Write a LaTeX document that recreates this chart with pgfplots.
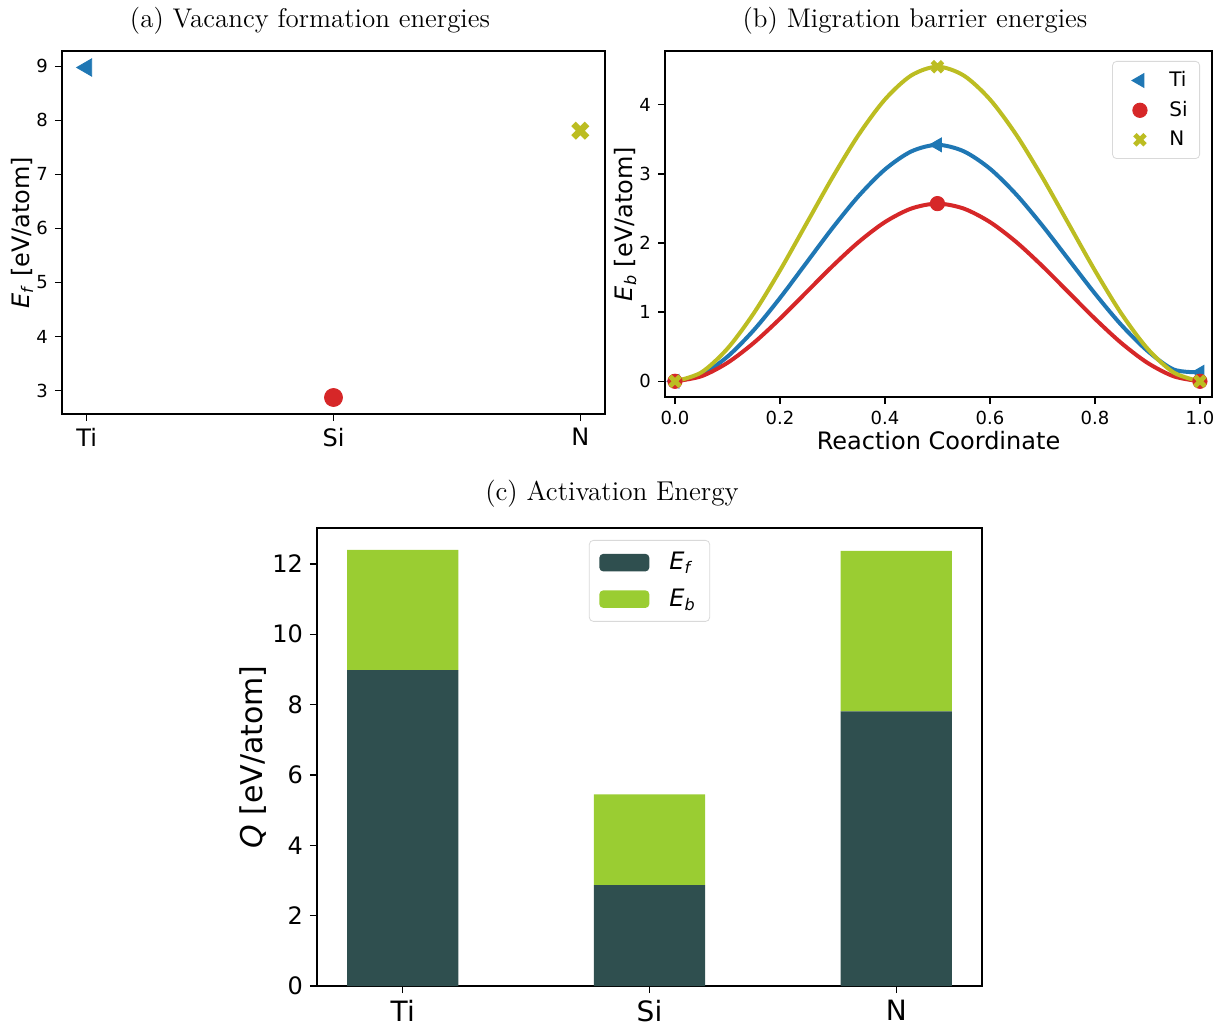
\documentclass[border=0pt]{standalone}
\usepackage{fontspec}
\setsansfont{DejaVu Sans}
\usepackage{pgfplots}
\usepackage{pgfplotstable}
\pgfplotsset{compat=1.18}
\definecolor{cTi}{HTML}{1F77B4}
\definecolor{cSi}{HTML}{D62728}
\definecolor{cN}{HTML}{BCBD22}
\definecolor{cEf}{HTML}{2F4F4F}
\definecolor{cEb}{HTML}{9ACD32}

\pgfdeclareplotmark{Xf}{%
 \pgftransformrotate{45}%
 \pgfpathmoveto{\pgfqpoint{-0.333\pgfplotmarksize}{-1\pgfplotmarksize}}%
 \pgfpathlineto{\pgfqpoint{0.333\pgfplotmarksize}{-1\pgfplotmarksize}}%
 \pgfpathlineto{\pgfqpoint{0.333\pgfplotmarksize}{-0.333\pgfplotmarksize}}%
 \pgfpathlineto{\pgfqpoint{1\pgfplotmarksize}{-0.333\pgfplotmarksize}}%
 \pgfpathlineto{\pgfqpoint{1\pgfplotmarksize}{0.333\pgfplotmarksize}}%
 \pgfpathlineto{\pgfqpoint{0.333\pgfplotmarksize}{0.333\pgfplotmarksize}}%
 \pgfpathlineto{\pgfqpoint{0.333\pgfplotmarksize}{1\pgfplotmarksize}}%
 \pgfpathlineto{\pgfqpoint{-0.333\pgfplotmarksize}{1\pgfplotmarksize}}%
 \pgfpathlineto{\pgfqpoint{-0.333\pgfplotmarksize}{0.333\pgfplotmarksize}}%
 \pgfpathlineto{\pgfqpoint{-1\pgfplotmarksize}{0.333\pgfplotmarksize}}%
 \pgfpathlineto{\pgfqpoint{-1\pgfplotmarksize}{-0.333\pgfplotmarksize}}%
 \pgfpathlineto{\pgfqpoint{-0.333\pgfplotmarksize}{-0.333\pgfplotmarksize}}%
 \pgfpathclose
 \pgfusepathqfill
}

% reaction-coordinate curves
\pgfplotstableread{
x    ti     si     n
0.00 0.000  0.000  0.000
0.05 0.096  0.072  0.127
0.10 0.356  0.267  0.473
0.15 0.739  0.555  0.983
0.20 1.204  0.905  1.602
0.25 1.710  1.285  2.275
0.30 2.216  1.665  2.948
0.35 2.681  2.015  3.567
0.40 3.064  2.303  4.077
0.45 3.324  2.498  4.423
0.50 3.420  2.570  4.550
0.55 3.327  2.498  4.423
0.60 3.075  2.303  4.077
0.65 2.703  2.015  3.567
0.70 2.251  1.665  2.948
0.75 1.760  1.285  2.275
0.80 1.269  0.905  1.602
0.85 0.817  0.555  0.983
0.90 0.440  0.267  0.473
0.95 0.170  0.072  0.127
1.00 0.130  0.000  0.000
}\curves

\pgfplotsset{
 panel/.style={
  scale only axis,
  axis line style={line width=0.7pt},
  every tick/.style={black, line width=0.7pt},
  major tick length=3.5pt,
  tick align=outside,
  xtick pos=left, ytick pos=left,
  /pgf/number format/assume math mode=true,
 },
}

\begin{document}
\begin{tikzpicture}
\path[use as bounding box] (0pt,0pt) rectangle (614pt,-513pt);

% titles
\node[font=\rmfamily\fontsize{13.5}{15.5}\selectfont] at (155pt,-10.5pt) {(a) Vacancy formation energies};
\node[font=\rmfamily\fontsize{13.5}{15.5}\selectfont] at (457.5pt,-10.5pt) {(b) Migration barrier energies};
\node[font=\rmfamily\fontsize{13.6}{15.6}\selectfont] at (306pt,-247pt) {(c) Activation Energy};

% (a)
\begin{axis}[panel, at={(31pt,-25.5pt)}, anchor=north west,
  width=271.5pt, height=181.5pt,
  xmin=-0.1, xmax=2.1, ymin=2.5645, ymax=9.2855,
  xtick={0,1,2}, xticklabels={Ti,Si,N}, ytick={3,4,5,6,7,8,9},
  xticklabel style={font=\sffamily\fontsize{12}{14}\selectfont},
  yticklabel style={font=\sffamily\fontsize{9}{11}\selectfont},
  ylabel={\textit{E}\textsubscript{\textit{f}} [eV/atom]},
  every axis y label/.append style={at={(axis description cs:-0.0737,0.5)}, anchor=center,
    font=\sffamily\fontsize{12}{14}\selectfont},
  clip=false]
\addplot[only marks, mark=triangle*, mark size=5pt, color=cTi, mark options={rotate=90, fill=cTi, draw=none}] coordinates {(0,8.98)};
\addplot[only marks, mark=*, mark size=4.5pt, color=cSi, mark options={fill=cSi, draw=none}] coordinates {(1,2.87)};
\addplot[only marks, mark=Xf, mark size=4.8pt, color=cN, mark options={fill=cN, draw=none}] coordinates {(2,7.81)};
\end{axis}

% (b)
\begin{axis}[panel, at={(332.5pt,-25.5pt)}, anchor=north west,
  width=273.5pt, height=173pt,
  xmin=-0.019, xmax=1.023, ymin=-0.2275, ymax=4.7775,
  xtick={0,0.2,0.4,0.6,0.8,1}, ytick={0,1,2,3,4},
  xticklabel style={font=\sffamily\fontsize{9}{11}\selectfont, /pgf/number format/.cd, fixed, fixed zerofill, precision=1},
  yticklabel style={font=\sffamily\fontsize{9}{11}\selectfont},
  xlabel={Reaction Coordinate},
  every axis x label/.append style={at={(axis description cs:0.5,-0.127)}, anchor=center,
    font=\sffamily\fontsize{12}{14}\selectfont},
  ylabel={\textit{E}\textsubscript{\textit{b}} [eV/atom]},
  every axis y label/.append style={at={(axis description cs:-0.073,0.5)}, anchor=center,
    font=\sffamily\fontsize{12}{14}\selectfont},
  legend style={at={(1,1)}, anchor=north east, xshift=-6pt, yshift=-5pt,
    draw=black!15, rounded corners=2pt, fill=white,
    font=\sffamily\fontsize{10}{12}\selectfont,
    row sep=1.8pt, inner xsep=4pt, inner ysep=3pt},
  legend cell align=left,
  legend image code/.code={\draw[#1] plot coordinates {(9.5pt,0pt)}; \path (0pt,0pt) (22pt,0pt);}]
\addplot[cTi, line width=2pt, smooth, forget plot] table[x=x, y=ti] {\curves};
\addplot[only marks, mark=triangle*, mark size=4pt, color=cTi, mark options={rotate=90, fill=cTi, draw=none}] coordinates {(0,0) (0.5,3.42) (1,0.13)};
\addlegendentry{Ti}
\addplot[cSi, line width=2pt, smooth, forget plot] table[x=x, y=si] {\curves};
\addplot[only marks, mark=*, mark size=3.6pt, color=cSi, mark options={fill=cSi, draw=none}] coordinates {(0,0) (0.5,2.57) (1,0)};
\addlegendentry{Si}
\addplot[cN, line width=2pt, smooth, forget plot] table[x=x, y=n] {\curves};
\addplot[only marks, mark=Xf, mark size=3.6pt, color=cN, mark options={fill=cN, draw=none}] coordinates {(0,0) (0.5,4.55) (1,0)};
\addlegendentry{N}
\end{axis}

% (c)
\begin{axis}[panel, at={(158.5pt,-264pt)}, anchor=north west,
  width=332.5pt, height=229pt,
  ybar stacked, bar width=0.45,
  xmin=-0.3475, xmax=2.3475, ymin=0, ymax=13.02,
  xtick={0,1,2}, xticklabels={Ti,Si,N}, ytick={0,2,4,6,8,10,12},
  xticklabel style={font=\sffamily\fontsize{14}{16}\selectfont},
  yticklabel style={font=\sffamily\fontsize{12}{14}\selectfont},
  ylabel={\textit{Q} [eV/atom]},
  every axis y label/.append style={at={(axis description cs:-0.096,0.5)}, anchor=center,
    font=\sffamily\fontsize{15}{17}\selectfont},
  legend style={at={(0.5,1)}, anchor=north, yshift=-6pt,
    draw=black!15, rounded corners=2pt, fill=white,
    font=\sffamily\fontsize{12}{14}\selectfont,
    row sep=4pt, inner xsep=5pt, inner ysep=4pt},
  legend cell align=left,
  legend image code/.code={\fill[#1,/tikz/.cd,draw=none] (0pt,-4.4pt) rectangle (25pt,4.4pt); \path (33pt,0pt);}]
\addplot[fill=cEf, draw=none] coordinates {(0,8.98) (1,2.87) (2,7.81)};
\addlegendentry{\textit{E}\textsubscript{\textit{f}}}
\addplot[fill=cEb, draw=none] coordinates {(0,3.42) (1,2.58) (2,4.56)};
\addlegendentry{\textit{E}\textsubscript{\textit{b}}}
\end{axis}
\end{tikzpicture}
\end{document}
